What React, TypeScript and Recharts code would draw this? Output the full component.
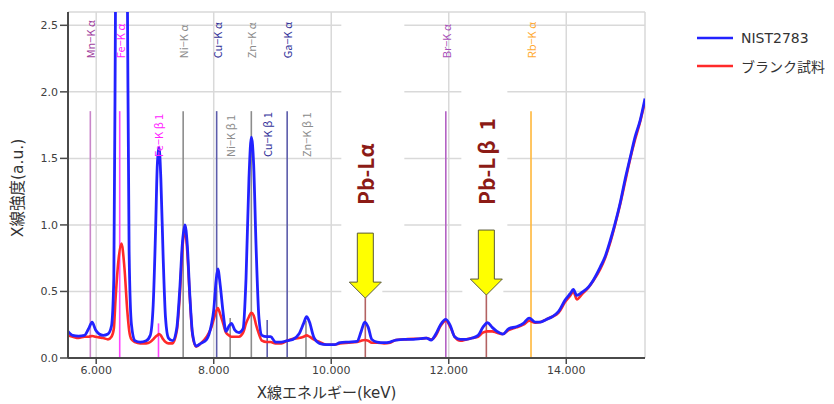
import React from 'react'
import {
  LineChart, Line, XAxis, YAxis, CartesianGrid, Legend, Label,
  ReferenceLine, ReferenceDot,
} from 'recharts'

// energy (keV) and intensity
const energy = [
  5.52, 5.6, 5.7, 5.8, 5.87, 5.93, 5.99, 6.05, 6.12, 6.2, 6.26, 6.3, 6.33, 6.38, 6.43, 6.48, 6.53, 6.56, 6.6, 6.66,
  6.75, 6.85, 6.92, 6.97, 7.01, 7.04, 7.07, 7.1, 7.14, 7.18, 7.23, 7.3, 7.37, 7.42, 7.47, 7.51, 7.55, 7.59, 7.64, 7.7,
  7.78, 7.88, 7.96, 8.0, 8.04, 8.07, 8.11, 8.16, 8.21, 8.26, 8.3, 8.36, 8.43, 8.5, 8.55, 8.6, 8.64, 8.68, 8.72, 8.77,
  8.82, 8.9, 8.97, 9.05, 9.15, 9.25, 9.35, 9.45, 9.53, 9.58, 9.63, 9.7, 9.8, 9.92, 10.05, 10.15, 10.3, 10.44, 10.51, 10.57,
  10.63, 10.69, 10.78, 10.9, 11.0, 11.1, 11.25, 11.4, 11.52, 11.62, 11.7, 11.78, 11.86, 11.95, 12.03, 12.1, 12.2, 12.3, 12.4, 12.5,
  12.58, 12.66, 12.74, 12.82, 12.92, 13.02, 13.15, 13.27, 13.37, 13.47, 13.56, 13.66, 13.76, 13.87, 13.98, 14.07, 14.12, 14.18, 14.27, 14.38,
  14.46, 14.58, 14.66, 14.75, 14.83, 14.92, 15.0, 15.09, 15.17, 15.26, 15.34,
]
const nist = [
  0.2, 0.17, 0.165, 0.17, 0.22, 0.27, 0.21, 0.18, 0.17, 0.18, 0.24, 0.6, 2.8, 6.0, 7.5, 6.0, 2.8, 0.8, 0.25, 0.13,
  0.12, 0.13, 0.17, 0.4, 0.95, 1.45, 1.58, 1.35, 0.75, 0.3, 0.15, 0.13, 0.22, 0.5, 0.88, 1.0, 0.85, 0.5, 0.18, 0.09,
  0.11, 0.14, 0.25, 0.36, 0.58, 0.67, 0.55, 0.34, 0.2, 0.24, 0.26, 0.21, 0.19, 0.22, 0.6, 1.35, 1.66, 1.45, 0.85, 0.3,
  0.17, 0.16, 0.16, 0.12, 0.12, 0.13, 0.14, 0.18, 0.26, 0.31, 0.27, 0.16, 0.11, 0.1, 0.1, 0.115, 0.12, 0.125, 0.2, 0.27,
  0.23, 0.14, 0.12, 0.115, 0.12, 0.135, 0.14, 0.14, 0.145, 0.15, 0.135, 0.18, 0.25, 0.29, 0.24, 0.16, 0.14, 0.14, 0.15, 0.17,
  0.23, 0.265, 0.23, 0.2, 0.18, 0.22, 0.235, 0.26, 0.3, 0.27, 0.27, 0.29, 0.31, 0.35, 0.435, 0.485, 0.515, 0.47, 0.495, 0.535,
  0.585, 0.685, 0.76, 0.885, 1.01, 1.17, 1.34, 1.51, 1.66, 1.79, 1.95,
]
const blank = [
  0.17, 0.16, 0.15, 0.16, 0.16, 0.165, 0.16, 0.155, 0.15, 0.14, 0.16, 0.22, 0.45, 0.74, 0.86, 0.68, 0.35, 0.21, 0.14, 0.12,
  0.11, 0.11, 0.12, 0.14, 0.16, 0.17, 0.18, 0.17, 0.14, 0.12, 0.11, 0.11, 0.2, 0.45, 0.84, 0.96, 0.8, 0.48, 0.17, 0.085,
  0.11, 0.16, 0.23, 0.29, 0.35, 0.375, 0.33, 0.26, 0.19, 0.17, 0.16, 0.16, 0.16, 0.19, 0.26, 0.31, 0.34, 0.32, 0.25, 0.18,
  0.13, 0.12, 0.12, 0.11, 0.11, 0.13, 0.145, 0.15, 0.16, 0.17, 0.16, 0.14, 0.12, 0.1, 0.1, 0.11, 0.115, 0.12, 0.13, 0.135,
  0.13, 0.115, 0.115, 0.11, 0.115, 0.135, 0.14, 0.145, 0.145, 0.15, 0.14, 0.17, 0.24, 0.28, 0.23, 0.16, 0.13, 0.14, 0.15, 0.16,
  0.19, 0.2, 0.2, 0.19, 0.18, 0.21, 0.23, 0.25, 0.28, 0.265, 0.27, 0.29, 0.31, 0.34, 0.42, 0.47, 0.5, 0.44, 0.48, 0.53,
  0.58, 0.67, 0.75, 0.87, 1.0, 1.16, 1.32, 1.5, 1.64, 1.78, 1.93,
]

const xTicks = [6, 8, 10, 12, 14]
const yTicks = [0, 0.5, 1.0, 1.5, 2.0, 2.5]

// element marker lines: name, energy, height of the line
const lineNames = ['Mn−Kα', 'Fe−Kα', 'Fe−Kβ1', 'Ni−Kα', 'Cu−Kα', 'Ni−Kβ1', 'Zn−Kα', 'Cu−Kβ1', 'Ga−Kα', 'Zn−Kβ1', 'Br−Kα', 'Rb−Kα']
const lineEnergies = [5.9, 6.4, 7.06, 7.48, 8.05, 8.28, 8.64, 8.91, 9.25, 9.57, 11.95, 13.4]
const lineHeights = [1.855, 1.855, 0.26, 1.855, 1.855, 0.3, 1.855, 0.285, 1.855, 0.28, 1.855, 1.855]

const pbNames = ['Pb-Lα', 'Pb-Lβ1']
const pbEnergies = [10.58, 12.64]
const pbHeights = [0.45, 0.473]

const rows = energy.map((e, i) => ({ e, nist: nist[i], blank: blank[i] }))

const FONT = "'DejaVu Sans', 'Noto Sans CJK JP', sans-serif"
const CJK = "'Noto Sans CJK JP', sans-serif"

const lineStyle: Record<string, { line: string; text: string }> = {
  Mn: { line: '#c985c9', text: '#a23f9e' },
  Fe: { line: '#ff44ff', text: '#ff22ff' },
  Ni: { line: '#8c8c8c', text: '#8c8c8c' },
  Cu: { line: '#5c5cab', text: '#34349a' },
  Zn: { line: '#8c8c8c', text: '#8c8c8c' },
  Ga: { line: '#5c5cab', text: '#34349a' },
  Br: { line: '#b462c4', text: '#a850b8' },
  Rb: { line: '#ffb83c', text: '#ffaa33' },
}

// label bottom sits at this intensity: alpha labels at the top row, beta labels lower
const labelRowY = (name: string) => (name.includes('β') ? 1.51 : 2.252)

// greek letters sit in a wide cell in the original figure, so pad around them
const spacedGreek = (text: string, before: number, after: number) =>
  text.split(/([αβ])/).filter(Boolean).map((s, i, arr) => {
    let dx = 0
    if (/[αβ]/.test(s)) dx = before
    else if (i > 0 && /[αβ]/.test(arr[i - 1])) dx = after
    return <tspan key={i} dx={dx}>{s}</tspan>
  })

const VLabel = (p: any) => (
  <text
    x={p.cx}
    y={p.cy}
    transform={`rotate(-90 ${p.cx} ${p.cy})`}
    textAnchor="start"
    dominantBaseline="central"
    fill={p.color}
    fontSize={11}
    fontFamily={CJK}
  >
    {spacedGreek(p.text, 2.5, 2.5)}
  </text>
)

const pbBox = [
  { left: 24, right: 39, up: 185, down: 25, before: 0, after: 0 },
  { left: 25, right: 21, up: 145, down: 23, before: 3, after: 10 },
]

const PbLabel = (p: any) => {
  const b = pbBox[p.idx]
  return (
    <g>
      <rect x={p.cx - b.left} y={p.cy - b.up} width={b.left + b.right} height={b.up + b.down} fill="#fff" />
      <text
        x={p.cx}
        y={p.cy}
        transform={`rotate(-90 ${p.cx} ${p.cy})`}
        textAnchor="start"
        dominantBaseline="central"
        fill="#8c1b16"
        fontSize={21}
        fontWeight={600}
        fontFamily={CJK}
      >
        {spacedGreek(p.text, b.before, b.after)}
      </text>
    </g>
  )
}

const Arrow = (p: any) => {
  const { cx, cy } = p
  const pts = [
    [cx - 8, cy - 65], [cx + 8, cy - 65], [cx + 8, cy - 16], [cx + 16, cy - 16],
    [cx, cy], [cx - 16, cy - 16], [cx - 8, cy - 16],
  ].map((q) => q.join(',')).join(' ')
  return (
    <g>
      <rect x={cx - 24} y={cy - 65} width={41} height={64} fill="#fff" />
      <polygon points={pts} fill="#ffff00" stroke="#5a5a3a" strokeWidth={1} />
    </g>
  )
}

const YTitle = (p: any) => {
  const vb = p.viewBox
  const x = vb.x + 18
  const y = vb.y + vb.height / 2 + 3
  return (
    <text x={x} y={y} transform={`rotate(-90 ${x} ${y})`} textAnchor="middle" dominantBaseline="central"
      fill="#333" fontSize={15.5} fontFamily={FONT}>
      X線強度(a.u.)
    </text>
  )
}

const XTitle = (p: any) => {
  const vb = p.viewBox
  return (
    <text x={vb.x + vb.width / 2 - 30} y={vb.y + 35} textAnchor="middle" dominantBaseline="central"
      fill="#333" fontSize={15} fontFamily={FONT}>
      X線エネルギー(keV)
    </text>
  )
}

const legendOrder = ['NIST2783', 'ブランク試料']

const renderLegend = (props: any) => {
  const items = [...(props.payload || [])].sort(
    (a: any, b: any) => legendOrder.indexOf(a.value) - legendOrder.indexOf(b.value)
  )
  return (
    <div style={{ fontFamily: FONT, fontSize: 14, color: '#333' }}>
      {items.map((it: any) => (
        <div key={it.value} style={{ display: 'flex', alignItems: 'center', height: 28 }}>
          <svg width={36} height={4} style={{ marginRight: 8 }}>
            <line x1={0} y1={2} x2={36} y2={2} stroke={it.color} strokeWidth={2.5} />
          </svg>
          <span>{it.value}</span>
        </div>
      ))}
    </div>
  )
}

const App: React.FC = () => {
  return (
    <div style={{ position: 'absolute', left: 0, top: 0, width: 834, height: 404, background: '#fff' }}>
      <LineChart width={834} height={404} data={rows} margin={{ top: 12, right: 189, bottom: 0, left: 0 }}>
        <CartesianGrid stroke="#d9d9d9" strokeWidth={1.5} />
        <XAxis
          dataKey="e"
          type="number"
          domain={[5.52, 15.34]}
          ticks={xTicks}
          allowDataOverflow
          height={46}
          tickFormatter={(v) => v.toFixed(3)}
          tick={{ fill: '#404040', fontSize: 11, fontFamily: FONT }}
          axisLine={{ stroke: '#4a4a4a', strokeWidth: 2 }}
          tickLine={{ stroke: '#4a4a4a', strokeWidth: 1.5 }}
          tickSize={6}
        >
          <Label content={XTitle} />
        </XAxis>
        <YAxis
          type="number"
          domain={[0, 2.6]}
          ticks={yTicks}
          allowDataOverflow
          width={68}
          tickFormatter={(v) => v.toFixed(1)}
          tick={{ fill: '#404040', fontSize: 11, fontFamily: FONT }}
          axisLine={{ stroke: '#4a4a4a', strokeWidth: 2 }}
          tickLine={{ stroke: '#4a4a4a', strokeWidth: 1.5 }}
          tickSize={8}
        >
          <Label content={YTitle} />
        </YAxis>

        {lineNames.map((n, i) => {
          const st = lineStyle[n.slice(0, 2)]
          return (
            <ReferenceLine
              key={n}
              segment={[{ x: lineEnergies[i], y: 0 }, { x: lineEnergies[i], y: lineHeights[i] }]}
              stroke={st.line}
              strokeWidth={1.6}
            />
          )
        })}
        {pbNames.map((n, i) => (
          <ReferenceLine
            key={n}
            segment={[{ x: pbEnergies[i], y: 0 }, { x: pbEnergies[i], y: pbHeights[i] }]}
            stroke="#b36262"
            strokeWidth={1.6}
          />
        ))}

        <Line type="monotone" dataKey="blank" name="ブランク試料" stroke="#ff2a2a" strokeWidth={2.6}
          dot={false} activeDot={false} isAnimationActive={false} />
        <Line type="monotone" dataKey="nist" name="NIST2783" stroke="#2222ff" strokeWidth={2.8}
          dot={false} activeDot={false} isAnimationActive={false} />

        {lineNames.map((n, i) => (
          <ReferenceDot
            key={'lbl' + n}
            x={lineEnergies[i]}
            y={labelRowY(n)}
            shape={(p: any) => <VLabel cx={p.cx} cy={p.cy} text={n} color={lineStyle[n.slice(0, 2)].text} />}
          />
        ))}
        {pbNames.map((n, i) => (
          <ReferenceDot
            key={'pbl' + n}
            x={pbEnergies[i]}
            y={1.149}
            shape={(p: any) => <PbLabel cx={p.cx} cy={p.cy} text={n} idx={i} />}
          />
        ))}
        {pbNames.map((n, i) => (
          <ReferenceDot
            key={'arr' + n}
            x={pbEnergies[i]}
            y={pbHeights[i]}
            shape={(p: any) => <Arrow cx={p.cx} cy={p.cy} />}
          />
        ))}

        <Legend
          layout="horizontal"
          verticalAlign="middle"
          align="center"
          wrapperStyle={{ left: 697, top: 24, width: 137 }}
          content={renderLegend}
        />
      </LineChart>
    </div>
  )
}

export default App
